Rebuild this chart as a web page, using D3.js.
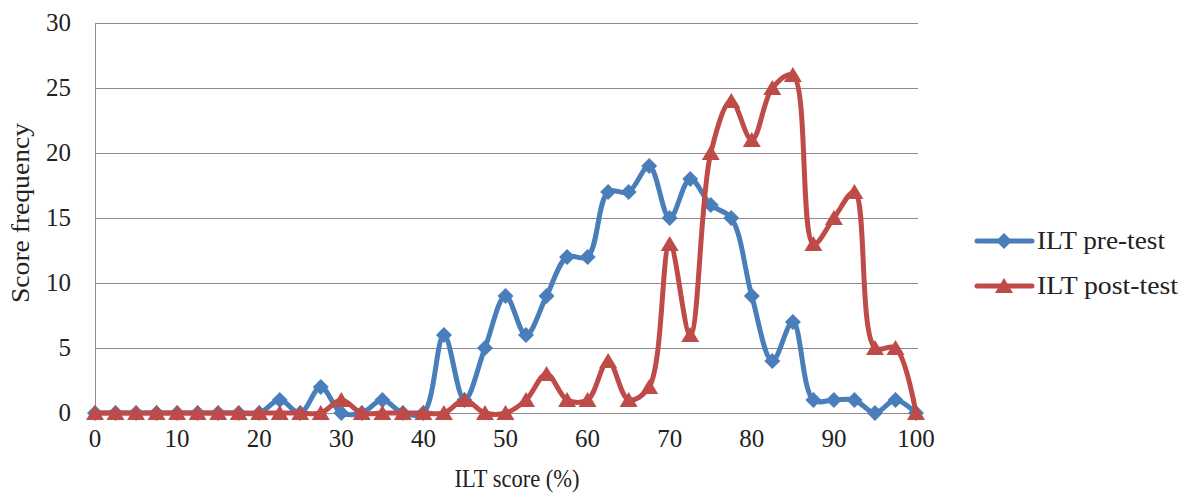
<!DOCTYPE html>
<html>
<head>
<meta charset="utf-8">
<title>ILT score frequency</title>
<style>
body { margin: 0; background: #fff; }
svg text { font-family: "Liberation Serif", "DejaVu Serif", "Noto Serif", serif; fill: #222; }
.grid line { stroke: #8c8c8c; stroke-width: 1; }
</style>
</head>
<body>
<script src="https://cdn.jsdelivr.net/npm/d3@7"></script>
<script>
// scores 0..100 step 2.5
var scores = [0, 2.5, 5, 7.5, 10, 12.5, 15, 17.5, 20, 22.5, 25, 27.5, 30, 32.5, 35, 37.5, 40,
  42.5, 45, 47.5, 50, 52.5, 55, 57.5, 60, 62.5, 65, 67.5, 70, 72.5, 75, 77.5, 80, 82.5, 85,
  87.5, 90, 92.5, 95, 97.5, 100];
var preTest = [0, 0, 0, 0, 0, 0, 0, 0, 0, 1, 0, 2, 0, 0, 1, 0, 0,
  6, 1, 5, 9, 6, 9, 12, 12, 17, 17, 19, 15, 18, 16, 15, 9, 4, 7,
  1, 1, 1, 0, 1, 0];
var postTest = [0, 0, 0, 0, 0, 0, 0, 0, 0, 0, 0, 0, 1, 0, 0, 0, 0,
  0, 1, 0, 0, 1, 3, 1, 1, 4, 1, 2, 13, 6, 20, 24, 21, 25, 26,
  13, 15, 17, 5, 5, 0];
var xTicks = [0, 10, 20, 30, 40, 50, 60, 70, 80, 90, 100];
var yTicks = [0, 5, 10, 15, 20, 25, 30];

// Excel style markers: square rotated 45deg and a flat triangle
var diamond = "M0,-8L8,0L0,8L-8,0Z";
var triangle = "M0,-8L9,7L-9,7Z";

var series = [
  {name: "ILT pre-test", values: preTest, color: "#4a7ebb", marker: diamond, width: 128},
  {name: "ILT post-test", values: postTest, color: "#be4b48", marker: triangle, width: 141}
];

var width = 1187, height = 498;
var svg = d3.select("body").append("svg")
  .attr("width", width)
  .attr("height", height);

var x = d3.scaleLinear().domain([0, 100]).range([95, 916]);
var y = d3.scaleLinear().domain([0, 30]).range([413, 23]);

// gridlines
svg.append("g").attr("class", "grid")
  .selectAll("line")
  .data(yTicks)
  .enter().append("line")
  .attr("x1", x(0))
  .attr("x2", x(100) + 2)
  .attr("y1", d => y(d) + 0.5)
  .attr("y2", d => y(d) + 0.5);

svg.append("line")
  .attr("x1", x(0) + 0.5).attr("x2", x(0) + 0.5)
  .attr("y1", y(30)).attr("y2", y(0))
  .attr("stroke", "#8c8c8c");

// tick labels
svg.append("g").selectAll("text")
  .data(yTicks)
  .enter().append("text")
  .attr("x", 71)
  .attr("y", d => y(d))
  .attr("dy", "0.33em")
  .attr("text-anchor", "end")
  .style("font-size", "25px")
  .text(d => d);

svg.append("g").selectAll("text")
  .data(xTicks)
  .enter().append("text")
  .attr("x", d => x(d))
  .attr("y", 447)
  .attr("text-anchor", "middle")
  .style("font-size", "25px")
  .text(d => d);

// axis titles
svg.append("text")
  .attr("transform", "translate(29,213) rotate(-90)")
  .attr("text-anchor", "middle")
  .attr("textLength", 180)
  .attr("lengthAdjust", "spacingAndGlyphs")
  .style("font-size", "25px")
  .text("Score frequency");

svg.append("text")
  .attr("x", 517)
  .attr("y", 487)
  .attr("text-anchor", "middle")
  .attr("textLength", 125)
  .attr("lengthAdjust", "spacingAndGlyphs")
  .style("font-size", "25px")
  .text("ILT score (%)");

// smoothed lines
var line = d3.line()
  .x((d, i) => x(scores[i]))
  .y(d => y(d))
  .curve(d3.curveCatmullRom.alpha(0.5));

series.forEach(function(s) {
  var g = svg.append("g");
  g.append("path")
    .attr("d", line(s.values))
    .attr("fill", "none")
    .attr("stroke", s.color)
    .attr("stroke-width", 5)
    .attr("stroke-linejoin", "round");

  g.selectAll("path.marker")
    .data(s.values)
    .enter().append("path")
    .attr("class", "marker")
    .attr("d", s.marker)
    .attr("transform", (d, i) => "translate(" + x(scores[i]) + "," + y(d) + ")")
    .attr("fill", s.color);
});

// legend
var legend = svg.append("g");
series.forEach(function(s, i) {
  var ly = 241 + i * 45;
  legend.append("line")
    .attr("x1", 977).attr("x2", 1032)
    .attr("y1", ly).attr("y2", ly)
    .attr("stroke", s.color)
    .attr("stroke-width", 5)
    .attr("stroke-linecap", "round");
  legend.append("path")
    .attr("d", s.marker)
    .attr("transform", "translate(1004," + ly + ")")
    .attr("fill", s.color);
  legend.append("text")
    .attr("x", 1037)
    .attr("y", ly)
    .attr("dy", "0.33em")
    .attr("textLength", s.width)
    .attr("lengthAdjust", "spacingAndGlyphs")
    .style("font-size", "25px")
    .text(s.name);
});
</script>
</body>
</html>
